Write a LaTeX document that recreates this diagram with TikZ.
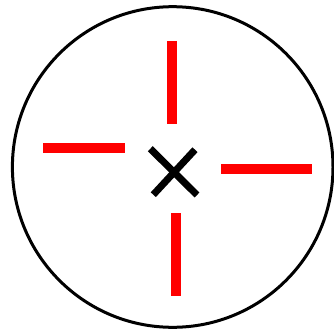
\documentclass[tikz,border=0pt]{standalone}
\begin{document}
\begin{tikzpicture}[x=1pt,y=-1pt,
  tick/.style={draw=red,line width=10pt},
  cross/.style={draw=black,line width=7pt}]
\useasboundingbox (0,0) rectangle (334,329);
\draw[line width=3pt] (172.7,167) circle [radius=160.3];
\path[tick] (172,41) -- (172,124);
\path[tick] (43,148) -- (125,148);
\path[tick] (221,169) -- (312,169);
\path[tick] (176,213) -- (176,296);
\path[cross] (150.3,148.7) -- (197,195);
\path[cross] (195,149.7) -- (153.3,194.7);
\end{tikzpicture}
\end{document}
